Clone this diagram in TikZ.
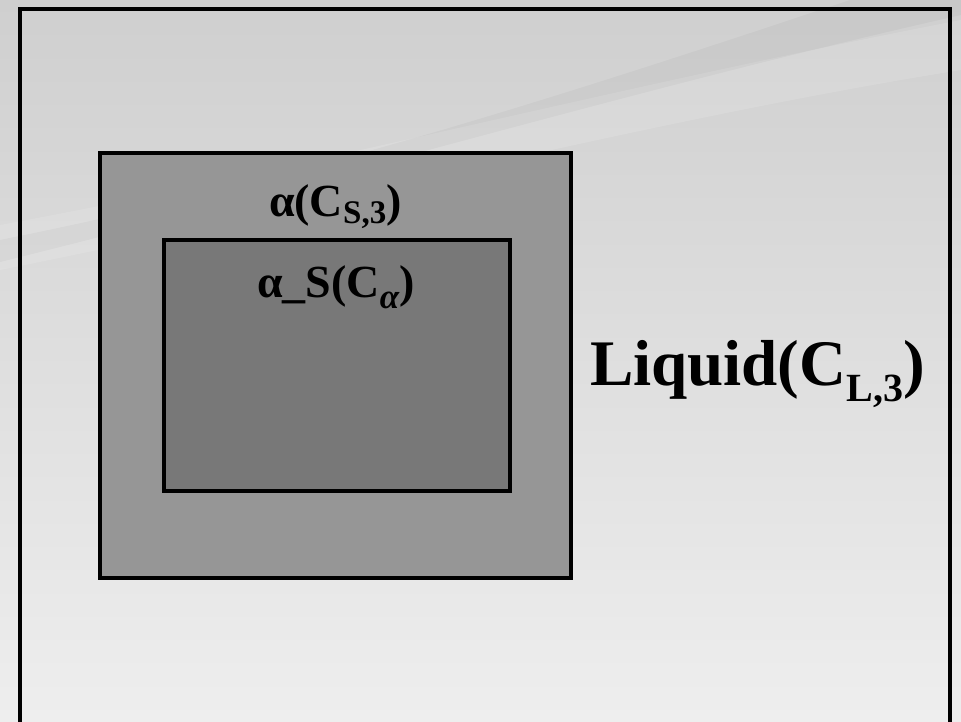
\documentclass[tikz,border=0pt]{standalone}
\usepackage{fontspec}
\setmainfont{Liberation Serif}
\begin{document}
\begin{tikzpicture}[x=1pt,y=-1pt,
  frame/.style={draw=black,line width=3.5pt},
  box/.style={frame,inner sep=0pt,outer sep=0pt},
  lbl/.style={inner sep=0pt,outer sep=0pt,anchor=base west,font=\bfseries}]
\definecolor{midgray}{RGB}{150,150,150}
\definecolor{darkgray}{RGB}{120,120,120}
\definecolor{bgtop}{RGB}{207,207,207}
\definecolor{bgbot}{RGB}{238,238,238}
\useasboundingbox (0,0) rectangle (961,721);
\shade[top color=bgtop,bottom color=bgbot] (0,0) rectangle (961,721);
% swoosh
\fill[white,opacity=0.12] (0,225) .. controls (300,170) and (600,90) .. (961,20) -- (961,70) .. controls (650,120) and (350,200) .. (0,270) -- cycle;
\fill[black,opacity=0.03] (0,240) .. controls (300,180) and (550,100) .. (850,0) -- (961,0) -- (961,15) .. controls (650,85) and (350,175) .. (0,262) -- cycle;
% outer frame (open below the picture)
\coordinate (ol) at (20,740);
\coordinate (or) at (950,740);
\draw[frame] (ol) -- (20,9) -- (950,9) -- (or);
\node[box,fill=midgray,minimum width=471pt,minimum height=425pt] (mid) at (335.5,365.5) {};
\node[box,fill=darkgray,minimum width=346pt,minimum height=251pt] (inner) at (337,365.5) {};
\node[lbl,font=\bfseries\fontsize{46}{46}\selectfont] (lmid) at (269,216)
  {α(C\raisebox{-7pt}{\fontsize{33}{33}\selectfont S,3})};
\node[lbl,font=\bfseries\fontsize{46}{46}\selectfont] (linner) at (257,297)
  {α\_S(C\raisebox{-11pt}{\fontsize{35}{35}\selectfont\itshape α})};
\node[lbl,font=\bfseries\fontsize{65}{65}\selectfont] (lliq) at (590,385)
  {Liquid(C\raisebox{-16pt}{\fontsize{40}{40}\selectfont L,3})};
\end{tikzpicture}
\end{document}
